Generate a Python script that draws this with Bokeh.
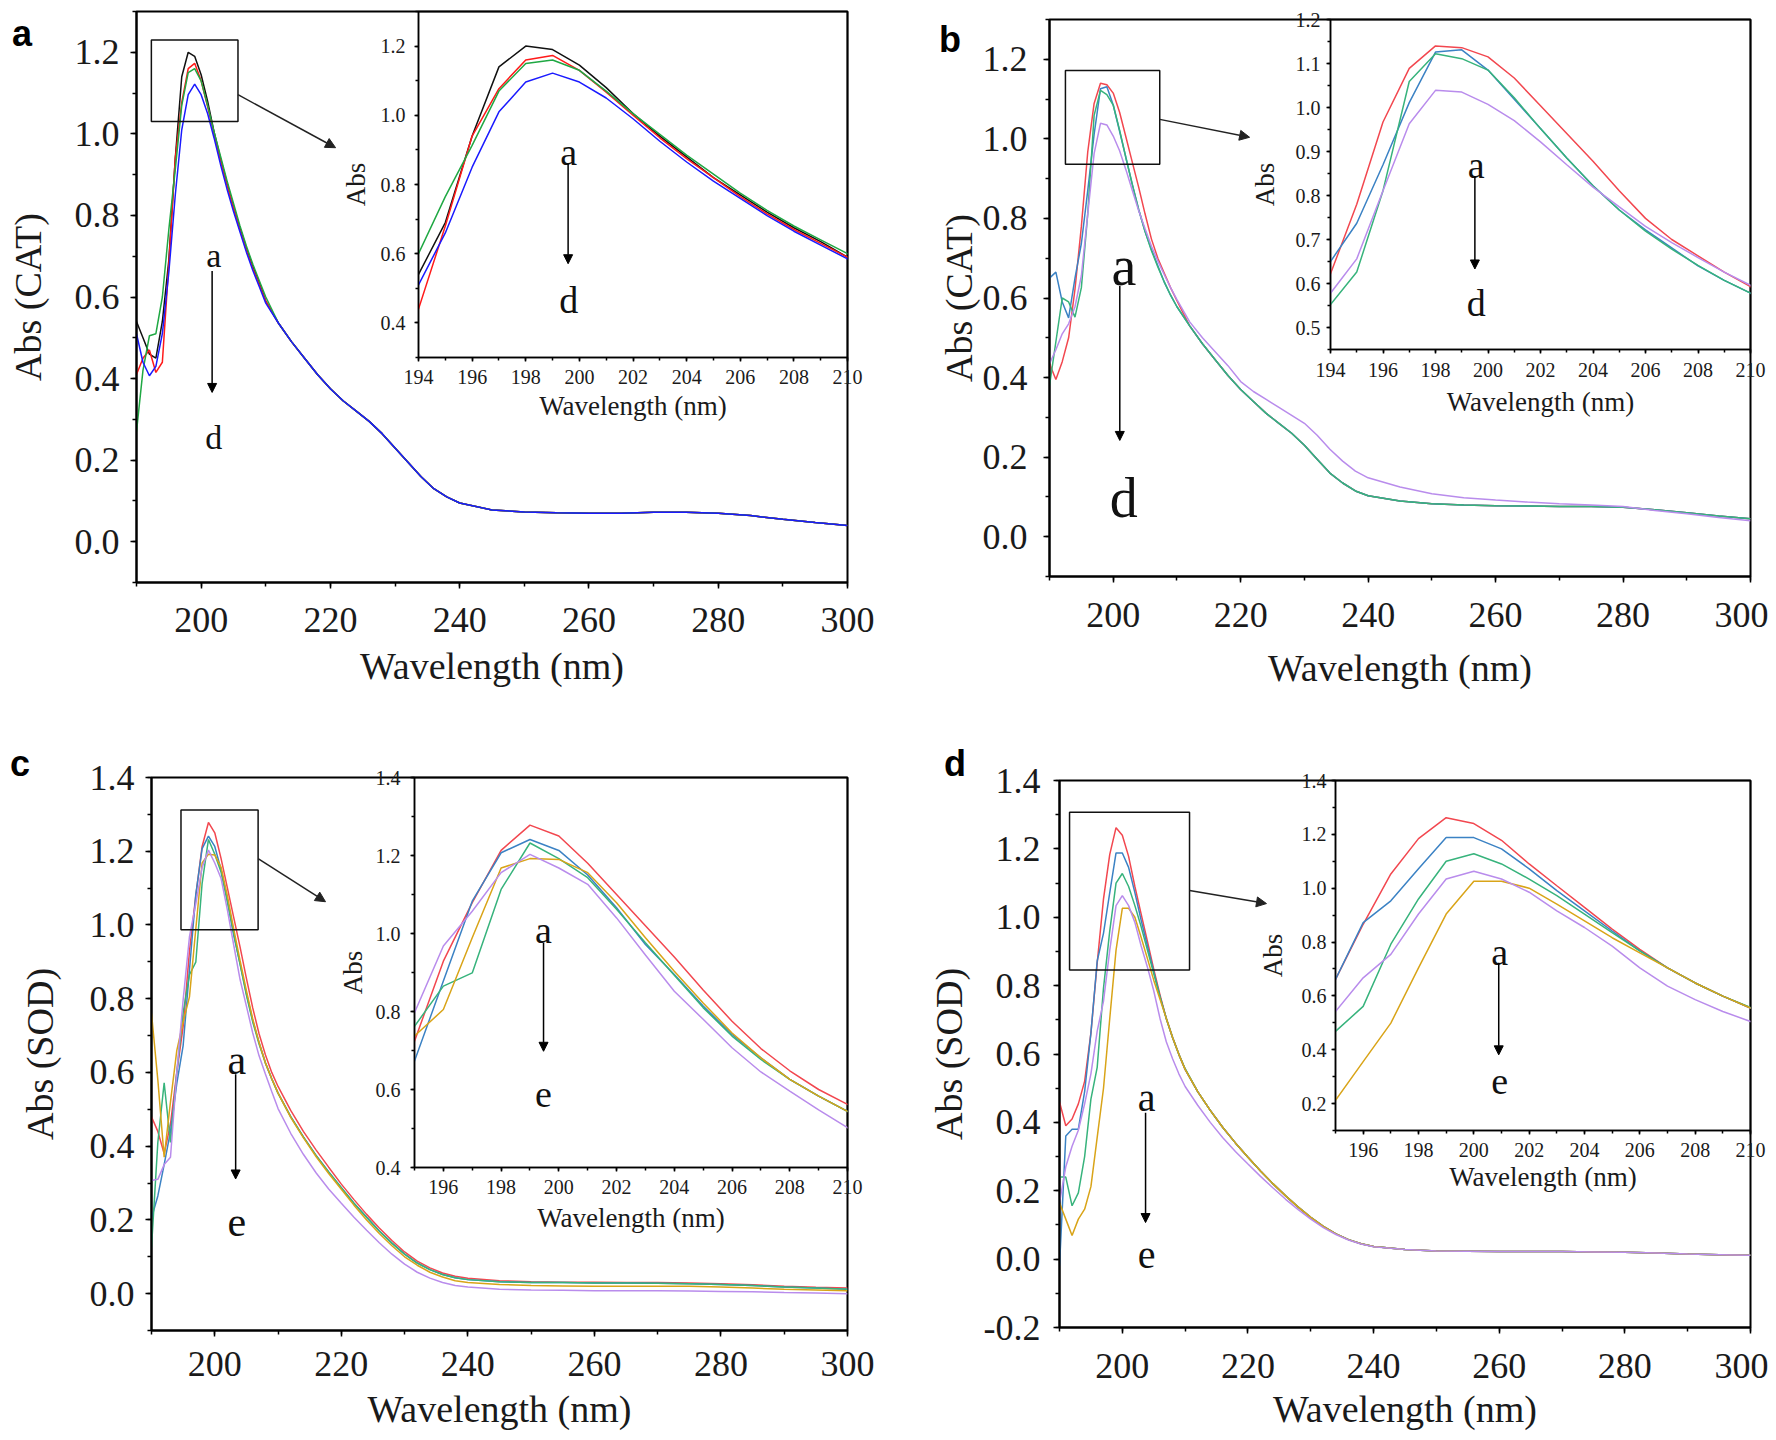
from bokeh.plotting import figure
from bokeh.models import (GridBox, FixedTicker, NumeralTickFormatter, BoxAnnotation,
                          Arrow, NormalHead, Label, Range1d, Div)
from bokeh.embed import file_html
from bokeh.resources import INLINE

SERIF = "Liberation Serif"
SANS = "Liberation Sans"

# ---------------- data ----------------
wl_peak = [190, 191, 192, 193, 194, 195, 196, 197, 198, 199, 200,
           201, 202, 203, 204, 205, 206, 207, 208, 209, 210]
wl_tail = [212, 214, 216, 218, 220, 222, 224, 226, 228, 230, 232, 234, 236, 238, 240,
           245, 250, 255, 260, 265, 270, 275, 280, 285, 290, 295, 300]
wavelength = wl_peak + wl_tail

# panel a  (CAT)
a_black_pk = [0.54, 0.50, 0.46, 0.45, 0.54, 0.69, 0.94, 1.14, 1.20, 1.19, 1.145, 1.08, 1.005, 0.94, 0.88, 0.82, 0.77, 0.72, 0.675, 0.635, 0.59]
a_red_pk = [0.41, 0.45, 0.47, 0.415, 0.44, 0.68, 0.94, 1.077, 1.16, 1.173, 1.13, 1.067, 1.0, 0.935, 0.875, 0.82, 0.765, 0.715, 0.67, 0.63, 0.59]
a_green_pk = [0.27, 0.42, 0.505, 0.51, 0.60, 0.765, 0.913, 1.07, 1.15, 1.16, 1.13, 1.07, 1.005, 0.945, 0.885, 0.83, 0.775, 0.725, 0.68, 0.64, 0.60]
a_blue_pk = [0.51, 0.44, 0.407, 0.43, 0.51, 0.66, 0.85, 1.01, 1.096, 1.122, 1.096, 1.05, 0.99, 0.925, 0.865, 0.81, 0.76, 0.71, 0.665, 0.625, 0.585]
a_tail = [0.535, 0.49, 0.45, 0.41, 0.375, 0.345, 0.32, 0.295, 0.265, 0.23, 0.195, 0.16, 0.13, 0.11, 0.095,
          0.078, 0.073, 0.071, 0.07, 0.07, 0.072, 0.072, 0.07, 0.064, 0.055, 0.047, 0.04]

# panel b  (CAT)
b_red_pk = [0.435, 0.395, 0.44, 0.50, 0.622, 0.78, 0.967, 1.089, 1.14, 1.136, 1.115, 1.067, 1.004, 0.941, 0.878, 0.811, 0.748, 0.70, 0.663, 0.626, 0.593]
b_blue_pk = [0.65, 0.665, 0.59, 0.55, 0.65, 0.737, 0.87, 1.011, 1.126, 1.131, 1.085, 1.019, 0.952, 0.885, 0.822, 0.767, 0.722, 0.681, 0.64, 0.607, 0.578]
b_green_pk = [0.38, 0.49, 0.60, 0.59, 0.552, 0.626, 0.811, 1.059, 1.122, 1.111, 1.085, 1.022, 0.952, 0.885, 0.822, 0.767, 0.719, 0.678, 0.641, 0.607, 0.578]
b_purple_pk = [0.435, 0.47, 0.51, 0.535, 0.578, 0.656, 0.811, 0.963, 1.039, 1.035, 1.007, 0.97, 0.922, 0.87, 0.819, 0.774, 0.73, 0.693, 0.659, 0.626, 0.596]
b_tail = [0.53, 0.485, 0.445, 0.405, 0.37, 0.34, 0.31, 0.285, 0.26, 0.23, 0.195, 0.16, 0.135, 0.115, 0.103,
          0.09, 0.083, 0.08, 0.078, 0.077, 0.076, 0.076, 0.074, 0.068, 0.06, 0.052, 0.045]
b_tail_purple = [0.54, 0.5, 0.465, 0.43, 0.39, 0.365, 0.345, 0.325, 0.305, 0.285, 0.255, 0.22, 0.19, 0.165, 0.148,
                 0.125, 0.108, 0.098, 0.092, 0.087, 0.083, 0.08, 0.076, 0.066, 0.058, 0.048, 0.04]

# panel c  (SOD)
c_red_pk = [0.48, 0.44, 0.38, 0.46, 0.60, 0.724, 0.929, 1.079, 1.213, 1.278, 1.25, 1.18, 1.10, 1.02, 0.94, 0.855, 0.775, 0.705, 0.648, 0.60, 0.562]
c_blue_pk = [0.205, 0.265, 0.35, 0.44, 0.57, 0.673, 0.878, 1.083, 1.207, 1.241, 1.213, 1.15, 1.066, 0.972, 0.895, 0.814, 0.741, 0.681, 0.626, 0.583, 0.544]
c_green_pk = [0.126, 0.41, 0.572, 0.41, 0.60, 0.762, 0.865, 0.899, 1.113, 1.232, 1.192, 1.143, 1.062, 0.976, 0.893, 0.81, 0.737, 0.677, 0.626, 0.583, 0.544]
c_orange_pk = [0.76, 0.58, 0.37, 0.52, 0.66, 0.737, 0.805, 0.989, 1.168, 1.192, 1.19, 1.156, 1.079, 0.989, 0.903, 0.822, 0.745, 0.681, 0.626, 0.583, 0.544]
c_purple_pk = [0.307, 0.31, 0.35, 0.37, 0.60, 0.797, 0.968, 1.057, 1.156, 1.203, 1.168, 1.126, 1.04, 0.945, 0.852, 0.78, 0.707, 0.645, 0.596, 0.548, 0.502]
c_tail_mid = [0.48, 0.425, 0.375, 0.33, 0.287, 0.245, 0.207, 0.17, 0.137, 0.107, 0.083, 0.065, 0.052, 0.043, 0.038,
              0.032, 0.03, 0.03, 0.029, 0.029, 0.028, 0.027, 0.025, 0.022, 0.018, 0.015, 0.012]
c_tail_red = [0.497, 0.44, 0.39, 0.343, 0.297, 0.255, 0.215, 0.178, 0.144, 0.113, 0.088, 0.07, 0.056, 0.047, 0.042,
              0.035, 0.032, 0.031, 0.031, 0.03, 0.03, 0.029, 0.027, 0.024, 0.02, 0.017, 0.015]
c_tail_orange = [0.478, 0.423, 0.372, 0.326, 0.283, 0.24, 0.2, 0.163, 0.13, 0.1, 0.077, 0.058, 0.045, 0.035, 0.03,
                 0.025, 0.022, 0.021, 0.02, 0.02, 0.02, 0.02, 0.018, 0.015, 0.012, 0.01, 0.008]
c_tail_purple = [0.435, 0.378, 0.328, 0.284, 0.245, 0.207, 0.172, 0.138, 0.107, 0.08, 0.058, 0.042, 0.03, 0.022, 0.018,
                 0.012, 0.01, 0.009, 0.008, 0.008, 0.008, 0.007, 0.006, 0.005, 0.003, 0.002, 0.0]

# panel d  (SOD)
d_red_pk = [0.46, 0.39, 0.41, 0.454, 0.52, 0.661, 0.866, 1.053, 1.184, 1.262, 1.24, 1.178, 1.09, 1.009, 0.929, 0.848, 0.773, 0.704, 0.648, 0.599, 0.555]
d_blue_pk = [-0.02, 0.36, 0.38, 0.38, 0.49, 0.661, 0.872, 0.953, 1.072, 1.188, 1.188, 1.146, 1.072, 0.991, 0.916, 0.841, 0.767, 0.704, 0.648, 0.599, 0.555]
d_green_pk = [0.24, 0.24, 0.156, 0.194, 0.30, 0.468, 0.561, 0.792, 0.96, 1.10, 1.128, 1.09, 1.034, 0.972, 0.904, 0.835, 0.767, 0.704, 0.648, 0.599, 0.557]
d_purple_pk = [0.165, 0.27, 0.33, 0.377, 0.454, 0.542, 0.667, 0.754, 0.904, 1.034, 1.063, 1.034, 0.985, 0.916, 0.854, 0.785, 0.704, 0.636, 0.586, 0.542, 0.505]
d_orange_pk = [0.165, 0.117, 0.069, 0.117, 0.146, 0.212, 0.356, 0.499, 0.704, 0.904, 1.026, 1.026, 1.0, 0.941, 0.879, 0.816, 0.76, 0.704, 0.648, 0.599, 0.555]
d_tail_mid = [0.49, 0.435, 0.385, 0.34, 0.298, 0.258, 0.22, 0.185, 0.152, 0.122, 0.096, 0.074, 0.057, 0.045, 0.037,
              0.028, 0.024, 0.023, 0.022, 0.022, 0.022, 0.021, 0.02, 0.018, 0.015, 0.013, 0.011]
d_tail_purple = [0.45, 0.4, 0.355, 0.315, 0.278, 0.242, 0.208, 0.175, 0.145, 0.117, 0.092, 0.072, 0.056, 0.044, 0.036,
                 0.028, 0.024, 0.023, 0.022, 0.022, 0.022, 0.021, 0.02, 0.018, 0.015, 0.013, 0.011]

# tick labels
main_x_ticks = [200, 220, 240, 260, 280, 300]
main_x_minor = [190, 200, 210, 220, 230, 240, 250, 260, 270, 280, 290, 300]
inset_x_ticks_ab = [194, 196, 198, 200, 202, 204, 206, 208, 210]
inset_x_ticks_cd = [196, 198, 200, 202, 204, 206, 208, 210]
inset_x_minor = [194, 195, 196, 197, 198, 199, 200, 201, 202, 203, 204, 205, 206, 207, 208, 209, 210]

# colours
C_BLACK, C_RED_A, C_GREEN_A, C_BLUE_A = "#111111", "#ff1a1a", "#1fa843", "#1a1aff"
C_RED, C_BLUE, C_GREEN, C_PURPLE, C_ORANGE = "#f2474f", "#3b82c4", "#37b37c", "#b98cec", "#d9a418"

panels = [
    dict(letter="a", letter_margin=(0, 0, 0, 12), W=888, ylabel="Abs (CAT)", yr=(-0.1, 1.3),
         yticks=[0.0, 0.2, 0.4, 0.6, 0.8, 1.0, 1.2],
         yminor=[-0.1, 0.0, 0.1, 0.2, 0.3, 0.4, 0.5, 0.6, 0.7, 0.8, 0.9, 1.0, 1.1, 1.2, 1.3],
         series=[(a_black_pk + a_tail, C_BLACK), (a_red_pk + a_tail, C_RED_A),
                 (a_green_pk + a_tail, C_GREEN_A), (a_blue_pk + a_tail, C_BLUE_A)],
         H=700, bl=136, br=41, bt=3, bb=126, ylstand=11, ylab=23, xlstand=19, xlab=10,
         rect=(192.3, 205.7, 1.03, 1.23), ptr=(205.7, 1.096, 220.8, 0.966),
         lab_x=201.96, lab_top=("a", 0.701), lab_bot=("d", 0.255), arr=(201.7, 0.664, 0.366), lab_fs=34,
         inset=dict(xr=(194, 210), yr=(0.3, 1.3), xticks=inset_x_ticks_ab,
                    yticks=[0.4, 0.6, 0.8, 1.0, 1.2], yminor=[0.3, 0.4, 0.5, 0.6, 0.7, 0.8, 0.9, 1.0, 1.1, 1.2, 1.3],
                    bt=3, fw=429, fh=346, ylstand=9, ylab=7, xlstand=8, xlab=4,
                    lab_x=199.6, lab_top=("a", 0.893), lab_bot=("d", 0.465), arr=(199.58, 0.86, 0.571))),
    dict(letter="b", letter_margin=(6, 0, 0, 51), W=880, ylabel="Abs (CAT)", yr=(-0.1, 1.3),
         yticks=[0.0, 0.2, 0.4, 0.6, 0.8, 1.0, 1.2],
         yminor=[-0.1, 0.0, 0.1, 0.2, 0.3, 0.4, 0.5, 0.6, 0.7, 0.8, 0.9, 1.0, 1.1, 1.2, 1.3],
         series=[(b_red_pk + b_tail, C_RED), (b_blue_pk + b_tail, C_BLUE),
                 (b_green_pk + b_tail, C_GREEN), (b_purple_pk + b_tail_purple, C_PURPLE)],
         H=700, bl=161, br=18, bt=11, bb=132, ylstand=16, ylab=0, xlstand=20, xlab=17,
         rect=(192.5, 207.3, 0.936, 1.172), ptr=(207.3, 1.049, 221.4, 1.004),
         lab_x=201.66, lab_top=("a", 0.68), lab_bot=("d", 0.097), arr=(201.03, 0.63, 0.242), lab_fs=56,
         inset=dict(xr=(194, 210), yr=(0.45, 1.2), xticks=inset_x_ticks_ab,
                    yticks=[0.5, 0.6, 0.7, 0.8, 0.9, 1.0, 1.1, 1.2],
                    yminor=[0.45, 0.5, 0.55, 0.6, 0.65, 0.7, 0.75, 0.8, 0.85, 0.9, 0.95, 1.0, 1.05, 1.1, 1.15, 1.2],
                    bt=11, fw=420, fh=330, ylstand=6, ylab=13, xlstand=9, xlab=7,
                    lab_x=199.55, lab_top=("a", 0.869), lab_bot=("d", 0.556), arr=(199.5, 0.844, 0.633))),
    dict(letter="c", letter_margin=(30, 0, 0, 10), W=888, ylabel="Abs (SOD)", yr=(-0.1, 1.4),
         yticks=[0.0, 0.2, 0.4, 0.6, 0.8, 1.0, 1.2, 1.4],
         yminor=[-0.1, 0.0, 0.1, 0.2, 0.3, 0.4, 0.5, 0.6, 0.7, 0.8, 0.9, 1.0, 1.1, 1.2, 1.3, 1.4],
         series=[(c_red_pk + c_tail_red, C_RED), (c_blue_pk + c_tail_mid, C_BLUE),
                 (c_green_pk + c_tail_mid, C_GREEN), (c_orange_pk + c_tail_orange, C_ORANGE),
                 (c_purple_pk + c_tail_purple, C_PURPLE)],
         H=724, bl=151, br=41, bt=69, bb=98, ylstand=11, ylab=26, xlstand=15, xlab=9,
         rect=(194.66, 206.85, 0.987, 1.312), ptr=(206.85, 1.18, 217.5, 1.063),
         lab_x=203.47, lab_top=("a", 0.633), lab_bot=("e", 0.195), arr=(203.3, 0.595, 0.311), lab_fs=42,
         inset=dict(xr=(195, 210), yr=(0.4, 1.4), xticks=inset_x_ticks_cd,
                    yticks=[0.4, 0.6, 0.8, 1.0, 1.2, 1.4], yminor=[0.4, 0.5, 0.6, 0.7, 0.8, 0.9, 1.0, 1.1, 1.2, 1.3, 1.4],
                    bt=69, fw=433, fh=390, ylstand=10, ylab=5, xlstand=8, xlab=6,
                    lab_x=199.47, lab_top=("a", 1.008), lab_bot=("e", 0.587), arr=(199.47, 0.976, 0.698))),
    dict(letter="d", letter_margin=(30, 0, 0, 56), W=880, ylabel="Abs (SOD)", yr=(-0.2, 1.4),
         yticks=[-0.2, 0.0, 0.2, 0.4, 0.6, 0.8, 1.0, 1.2, 1.4],
         yminor=[-0.2, -0.1, 0.0, 0.1, 0.2, 0.3, 0.4, 0.5, 0.6, 0.7, 0.8, 0.9, 1.0, 1.1, 1.2, 1.3, 1.4],
         series=[(d_red_pk + d_tail_mid, C_RED), (d_blue_pk + d_tail_mid, C_BLUE),
                 (d_green_pk + d_tail_mid, C_GREEN), (d_orange_pk + d_tail_mid, C_ORANGE),
                 (d_purple_pk + d_tail_purple, C_PURPLE)],
         H=724, bl=171, br=18, bt=72, bb=96, ylstand=13, ylab=11, xlstand=20, xlab=7,
         rect=(191.6, 210.7, 0.846, 1.307), ptr=(210.7, 1.078, 222.95, 1.04),
         lab_x=203.85, lab_top=("a", 0.472), lab_bot=("e", 0.0115), arr=(203.7, 0.428, 0.107), lab_fs=40,
         inset=dict(xr=(195, 210), yr=(0.1, 1.4), xticks=inset_x_ticks_cd,
                    yticks=[0.2, 0.4, 0.6, 0.8, 1.0, 1.2, 1.4],
                    yminor=[0.1, 0.2, 0.3, 0.4, 0.5, 0.6, 0.7, 0.8, 0.9, 1.0, 1.1, 1.2, 1.3, 1.4],
                    bt=72, fw=415, fh=350, ylstand=5, ylab=11, xlstand=8, xlab=2,
                    lab_x=200.93, lab_top=("a", 0.764), lab_bot=("e", 0.281), arr=(200.9, 0.723, 0.381))),
]


def style_axes(p, tick_px, title_px, tick_out, minor_out, lw, xls, xl, yls, yl):
    for ax in p.axis:
        ax.major_label_text_font = SERIF
        ax.major_label_text_font_size = f"{tick_px}px"
        ax.major_label_text_color = "#1a1a1a"
        ax.axis_label_text_font = SERIF
        ax.axis_label_text_font_size = f"{title_px}px"
        ax.axis_label_text_font_style = "normal"
        ax.axis_label_text_color = "#1a1a1a"
        ax.axis_line_color = "black"
        ax.axis_line_width = lw
        ax.major_tick_line_color = "black"
        ax.minor_tick_line_color = "black"
        ax.major_tick_line_width = 1.5
        ax.minor_tick_line_width = 1.5
        ax.major_tick_in = 0
        ax.minor_tick_in = 0
        ax.major_tick_out = tick_out
        ax.minor_tick_out = minor_out
    p.xaxis.major_label_standoff = xls
    p.xaxis.axis_label_standoff = xl
    p.yaxis.major_label_standoff = yls
    p.yaxis.axis_label_standoff = yl


def add_marker_text(p, x, top, bot, arr, fs):
    for txt, yy in (top, bot):
        p.add_layout(Label(x=x, y=yy, text=txt, text_font=SERIF, text_font_size=f"{fs}px",
                           text_align="center", text_baseline="alphabetic", text_color="#111111"))
    ax_, y0, y1 = arr
    p.add_layout(Arrow(x_start=ax_, y_start=y0, x_end=ax_, y_end=y1, line_width=1.5, line_color="black",
                       end=NormalHead(size=9, fill_color="black", line_color="black", line_width=1)))


quads = []
for spec in panels:
    W, H = spec["W"], spec["H"]
    p = figure(width=W, height=H, x_range=Range1d(190, 300), y_range=Range1d(*spec["yr"]),
               output_backend="svg", toolbar_location=None,
               min_border_left=spec["bl"], min_border_right=spec["br"],
               min_border_top=spec["bt"], min_border_bottom=spec["bb"],
               x_axis_label="Wavelength (nm)", y_axis_label=spec["ylabel"])
    p.grid.visible = False
    p.outline_line_color = "black"
    p.outline_line_width = 2
    p.background_fill_color = "white"
    p.border_fill_color = "white"
    p.xaxis.ticker = FixedTicker(ticks=main_x_ticks, minor_ticks=main_x_minor)
    p.yaxis.ticker = FixedTicker(ticks=spec["yticks"], minor_ticks=spec["yminor"])
    p.xaxis.formatter = NumeralTickFormatter(format="0")
    p.yaxis.formatter = NumeralTickFormatter(format="0.0")
    style_axes(p, 36, 38, 6, 4, 2, spec["xlstand"], spec["xlab"], spec["ylstand"], spec["ylab"])
    for ys, col in spec["series"]:
        p.line(wavelength, ys, line_color=col, line_width=1.5)
    l, r, b, t = spec["rect"]
    p.add_layout(BoxAnnotation(left=l, right=r, bottom=b, top=t, fill_alpha=0,
                               line_color="#111111", line_alpha=1.0, line_width=1.5))
    x0, y0, x1, y1 = spec["ptr"]
    p.add_layout(Arrow(x_start=x0, y_start=y0, x_end=x1, y_end=y1, line_width=1.5, line_color="#222222",
                       end=NormalHead(size=10, fill_color="#222222", line_color="#222222", line_width=1)))
    add_marker_text(p, spec["lab_x"], spec["lab_top"], spec["lab_bot"], spec["arr"], spec["lab_fs"])

    ins = spec["inset"]
    il, ib = 85, 75
    iw = il + ins["fw"] + spec["br"]
    ih = ins["bt"] + ins["fh"] + ib
    q = figure(width=iw, height=ih, x_range=Range1d(*ins["xr"]), y_range=Range1d(*ins["yr"]),
               output_backend="svg", toolbar_location=None,
               min_border_left=il, min_border_right=spec["br"], min_border_top=ins["bt"],
               min_border_bottom=ib, x_axis_label="Wavelength (nm)", y_axis_label="Abs")
    q.grid.visible = False
    q.outline_line_color = "black"
    q.outline_line_width = 1.5
    q.background_fill_color = None
    q.border_fill_color = None
    q.xaxis.ticker = FixedTicker(ticks=ins["xticks"], minor_ticks=inset_x_minor)
    q.yaxis.ticker = FixedTicker(ticks=ins["yticks"], minor_ticks=ins["yminor"])
    q.xaxis.formatter = NumeralTickFormatter(format="0")
    q.yaxis.formatter = NumeralTickFormatter(format="0.0")
    style_axes(q, 20, 27, 4, 3, 1.5, ins["xlstand"], ins["xlab"], ins["ylstand"], ins["ylab"])
    for ys, col in spec["series"]:
        q.line(wavelength, ys, line_color=col, line_width=1.5)
    add_marker_text(q, ins["lab_x"], ins["lab_top"], ins["lab_bot"], ins["arr"], 38)

    letter = Div(text=('<span style="font-family: \'Liberation Sans\', Arial, sans-serif; '
                       'font-size: 36px; font-weight: bold; color: #000;">%s</span>' % spec["letter"]),
                 width=44, height=46, margin=spec["letter_margin"])

    quad = GridBox(children=[(p, 0, 0, 2, 2), (q, 0, 1, 1, 1), (letter, 0, 0, 1, 1)],
                   cols=[f"{W - iw}px", f"{iw}px"], rows=[f"{ih}px", f"{H - ih}px"])
    quads.append(quad)

root = GridBox(children=[(quads[0], 0, 0), (quads[1], 0, 1), (quads[2], 1, 0), (quads[3], 1, 1)],
               cols=["888px", "880px"], rows=["700px", "724px"], margin=(8, 0, 0, 0))

open("out.html", "w").write(file_html(root, INLINE))
